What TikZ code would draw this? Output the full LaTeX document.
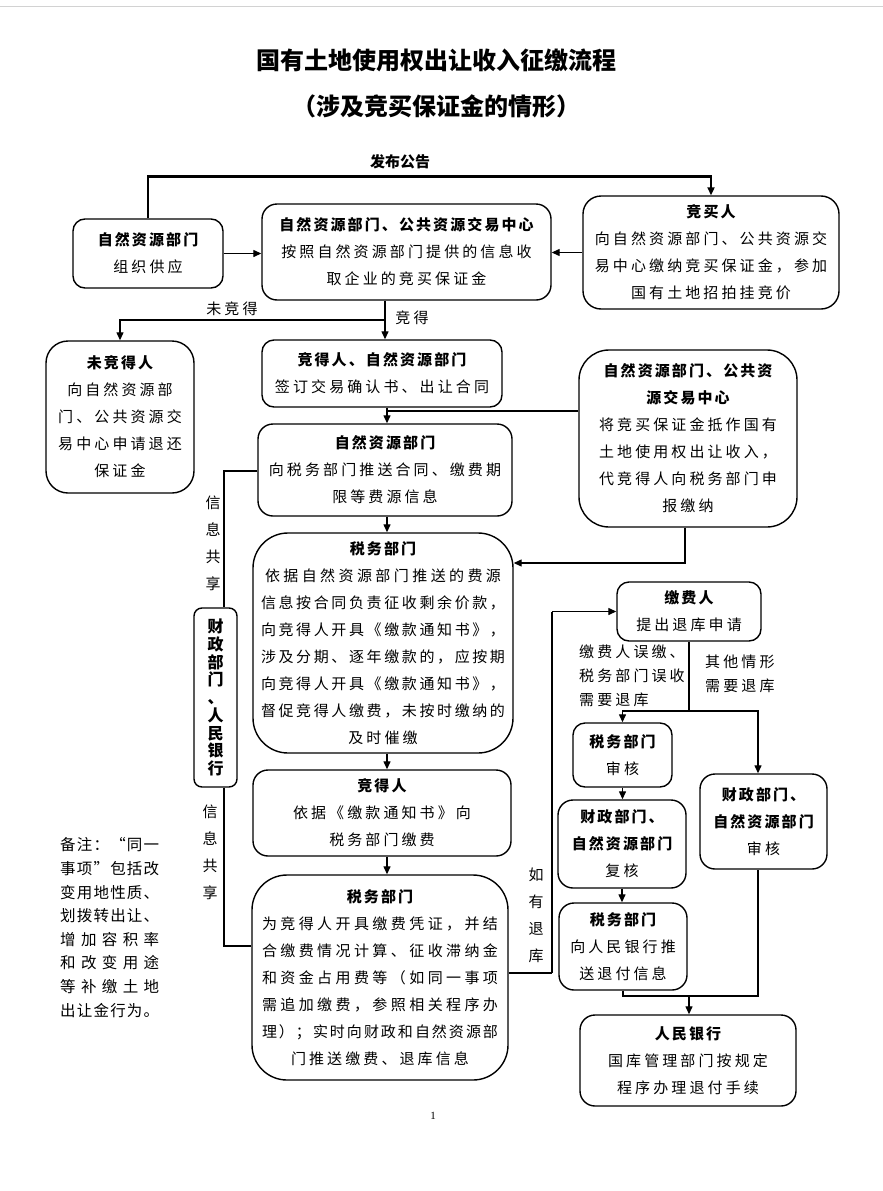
\documentclass[tikz,border=0pt]{standalone}
\usepackage{fontspec}
\setmainfont{Noto Sans CJK SC}
\newfontfamily\numfont{Liberation Serif}
\usetikzlibrary{arrows.meta,calc}
\newlength\mylsp \setlength\mylsp{3.1pt}
\def\mylssep{\kern\mylsp}
\def\mylsA#1#2\mylsend{#1\ifx\relax#2\relax\else\mylssep\mylsA#2\mylsend\fi}
\newcommand\myls[1]{\mylsA#1\mylsend}
\newcommand\myspr[2]{\hbox to #1{\def\mylssep{\hfil}\mylsA#2\mylsend}}
\newcommand\bodyfont{\fontsize{15}{27}\selectfont}
\newcommand\hd[1]{{\bfseries\setlength\mylsp{2.1pt}\myls{#1}}}
\tikzset{
  box/.style={draw, line width=1.4pt, rounded corners=#1, inner sep=0pt, align=center, font=\bodyfont},
  box/.default=12pt,
  arr/.style={-{Triangle[length=8pt,width=7pt]}},
  thin/.style={line width=1.3pt},
  thick/.style={line width=2.8pt},
  lbl/.style={font=\fontsize{15}{27}\selectfont, align=center, inner sep=0pt},
}
\begin{document}
\begin{tikzpicture}[x=1pt,y=-1pt]
\path[use as bounding box, fill=white] (0,0) rectangle (883,1191);
\draw[gray!35, line width=1pt] (0,6) -- (883,6);
% titles
\node[font=\fontsize{24}{28}\selectfont\bfseries] (t1) at (436,60) {国有土地使用权出让收入征缴流程};
\node[font=\fontsize{24}{28}\selectfont\bfseries] (t2) at (436,106) {（涉及竞买保证金的情形）};
% boxes
\node[box=12pt, minimum width=150pt, minimum height=69pt] (A) at (148,253.5) {\hd{自然资源部门}\\\myls{组织供应}};
\node[box=15pt, minimum width=289pt, minimum height=96pt] (B) at (406.5,252) {\hd{自然资源部门、公共资源交易中心}\\\myls{按照自然资源部门提供的信息收}\\\myls{取企业的竞买保证金}};
\node[box=18pt, minimum width=256pt, minimum height=113pt] (C) at (711,252.5) {\hd{竞买人}\\\myls{向自然资源部门、公共资源交}\\\myls{易中心缴纳竞买保证金，参加}\\\myls{国有土地招拍挂竞价}};
\node[box=22pt, minimum width=148pt, minimum height=152pt] (D) at (120,417) {\hd{未竞得人}\\\myls{向自然资源部}\\\myls{门、公共资源交}\\\myls{易中心申请退还}\\\myls{保证金}};
\node[box=12pt, minimum width=240pt, minimum height=67pt] (E) at (382,373.5) {\hd{竞得人、自然资源部门}\\\myls{签订交易确认书、出让合同}};
\node[box=15pt, minimum width=254pt, minimum height=92pt] (F) at (385,470) {\hd{自然资源部门}\\\myls{向税务部门推送合同、缴费期}\\\myls{限等费源信息}};
\node[box=30pt, minimum width=218pt, minimum height=177pt] (G) at (688,438.5) {\hd{自然资源部门、公共资}\\\hd{源交易中心}\\\myls{将竞买保证金抵作国有}\\\myls{土地使用权出让收入，}\\\myls{代竞得人向税务部门申}\\\myls{报缴纳}};
\node[box=35pt, minimum width=260pt, minimum height=220pt] (H) at (383,643) {\hd{税务部门}\\\myspr{236pt}{依据自然资源部门推送的费源}\\\myspr{244pt}{信息按合同负责征收剩余价款，}\\\myspr{244pt}{向竞得人开具《缴款通知书》，}\\\myspr{244pt}{涉及分期、逐年缴款的，应按期}\\\myspr{244pt}{向竞得人开具《缴款通知书》，}\\\myspr{244pt}{督促竞得人缴费，未按时缴纳的}\\\myls{及时催缴}};
\node[box=15pt, minimum width=258pt, minimum height=86pt] (I) at (382,813) {\hd{竞得人}\\\myls{依据《缴款通知书》向}\\\myls{税务部门缴费}};
\node[box=35pt, minimum width=256pt, minimum height=205pt] (J) at (380,977.5) {\hd{税务部门}\\\myspr{236pt}{为竞得人开具缴费凭证，并结}\\\myspr{236pt}{合缴费情况计算、征收滞纳金}\\\myspr{236pt}{和资金占用费等（如同一事项}\\\myspr{236pt}{需追加缴费，参照相关程序办}\\\myspr{236pt}{理）；实时向财政和自然资源部}\\\myls{门推送缴费、退库信息}};
\node[box=8pt, minimum width=43pt, minimum height=179pt, font=\fontsize{16}{17.75}\selectfont\bfseries] (K) at (215.5,697.5) {财\\政\\部\\门\\、\\人\\民\\银\\行};
\node[box=12pt, minimum width=144pt, minimum height=59pt] (L) at (689,611.5) {\hd{缴费人}\\\myls{提出退库申请}};
\node[box=12pt, minimum width=99pt, minimum height=64pt] (M) at (622.5,755) {\hd{税务部门}\\\myls{审核}};
\node[box=15pt, minimum width=127pt, minimum height=95pt] (N) at (763.5,821.5) {\hd{财政部门、}\\\hd{自然资源部门}\\\myls{审核}};
\node[box=15pt, minimum width=128pt, minimum height=88pt] (O) at (622,844) {\hd{财政部门、}\\\hd{自然资源部门}\\\myls{复核}};
\node[box=15pt, minimum width=128pt, minimum height=87pt] (P) at (623,946.5) {\hd{税务部门}\\\myls{向人民银行推}\\\myls{送退付信息}};
\node[box=15pt, minimum width=216pt, minimum height=91pt] (Q) at (688,1060.5) {\hd{人民银行}\\\myls{国库管理部门按规定}\\\myls{程序办理退付手续}};
% labels
\node[lbl, font=\fontsize{15}{27}\selectfont\bfseries] (pub) at (400,162) {发布公告};
\node[lbl] (wj) at (232,309) {\myls{未竞得}};
\node[lbl] (jd) at (412,318) {\myls{竞得}};
\node[lbl] (xx1) at (213,543.5) {信\\息\\共\\享};
\node[lbl] (xx2) at (210,852.5) {信\\息\\共\\享};
\node[lbl] (ry) at (536,915) {如\\有\\退\\库};
\node[lbl, anchor=west, align=left, font=\fontsize{15}{24}\selectfont] (wc) at (579,676) {\myls{缴费人误缴、}\\\myls{税务部门误收}\\\myls{需要退库}};
\node[lbl, anchor=west, align=left, font=\fontsize{15}{24}\selectfont] (qt) at (705,674) {\myls{其他情形}\\\myls{需要退库}};
\node[lbl, anchor=west, align=left, font=\fontsize{15.5}{23.6}\selectfont] (note) at (60,927.5) {\myspr{99pt}{备注：“同一}\\\myspr{99pt}{事项”包括改}\\\myspr{99pt}{变用地性质、}\\\myspr{99pt}{划拨转出让、}\\\myspr{99pt}{增加容积率}\\\myspr{99pt}{和改变用途}\\\myspr{99pt}{等补缴土地}\\\myspr{99pt}{出让金行为。}};
\node[font=\numfont\fontsize{11}{13}\selectfont] (pg) at (433,1116) {1};
% coordinates
\coordinate (sp1) at (385,320);
\coordinate (sh) at (387,411);
\coordinate (g1) at (685,563);
\coordinate (ks) at (224,471);
\coordinate (ks2) at (224,946);
\coordinate (r1) at (552,973);
\coordinate (s2) at (689,711);
\coordinate (s2r) at (758,711);
\coordinate (m1) at (689,996);
% connectors
\draw[thick, arr] (A.north) -- ++(0,-42) -| (C.north);
\draw[thin, arr] (A.east) -- (A.east -| B.west);
\draw[thin, arr] (C.west) -- (C.west -| B.east);
\draw[thin] (sp1 |- B.south) -- (sp1);
\draw[thin, arr] (sp1) -- (sp1 |- E.north);
\draw[thin, arr] (sp1) -| (D.north);
\draw[thin, arr] (sh |- E.south) -- (sh |- F.north);
\draw[thin] (sh -| G.west) -- (sh);
\draw[thin, arr] (sh |- F.south) -- (sh |- H.north);
\draw[thin, arr] (g1 |- G.south) -- (g1) -- (g1 -| H.east);
\draw[thin, arr] (sh |- H.south) -- (sh |- I.north);
\draw[thin, arr] (sh |- I.south) -- (sh |- J.north);
\draw[thin] (ks -| F.west) -- (ks) -- (ks |- K.north);
\draw[thin] (ks |- K.south) -- (ks2) -- (ks2 -| J.west);
\draw[thin] (r1 -| J.east) -- (r1);
\draw[thick] (r1) -- (r1 |- L.west);
\draw[thin, arr] (r1 |- L.west) -- (L.west);
\draw[thick] (L.south) -- (s2);
\draw[thin, arr] (s2) -| (M.north);
\draw[thin, arr] (s2) -- (s2r) -- (s2r |- N.north);
\draw[thin, arr] (M.south) -- (M.south |- O.north);
\draw[thin, arr] (O.south) -- (O.south |- P.north);
\draw[thick] (P.south) |- (s2r |- m1) -- (s2r |- N.south);
\draw[thin, arr] (m1) -- (m1 |- Q.north);
\end{tikzpicture}
\end{document}
